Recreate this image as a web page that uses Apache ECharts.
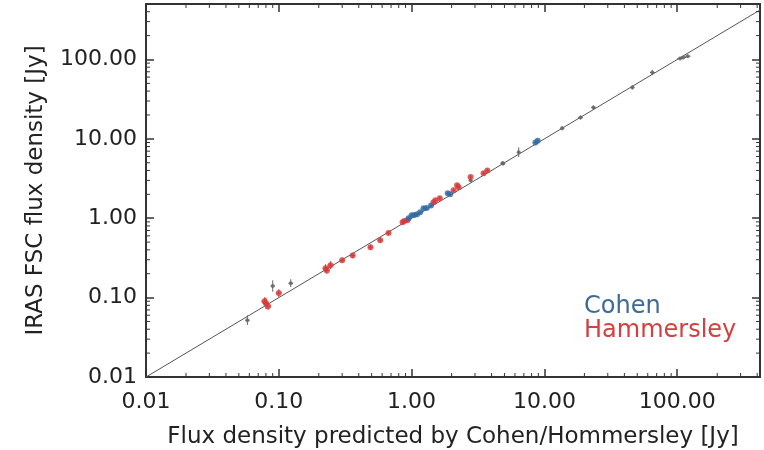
<!DOCTYPE html>
<html>
<head>
    <meta charset="UTF-8">
    <title>IRAS FSC vs predicted flux</title>
    <script src="https://cdn.jsdelivr.net/npm/echarts@6.0.0/dist/echarts.min.js"></script>
    <style>
        html, body { margin: 0; padding: 0; background: #fff; }
        #chart { width: 764px; height: 450px; }
    </style>
</head>
<body>
    <div id="chart"></div>
    <script>
        // axis ranges and ticks
        var xMin = 0.01, xMax = 420;
        var yMin = 0.01, yMax = 500;
        var minorTicks = [0.02, 0.03, 0.04, 0.05, 0.06, 0.07, 0.08, 0.09,
                          0.2, 0.3, 0.4, 0.5, 0.6, 0.7, 0.8, 0.9,
                          2, 3, 4, 5, 6, 7, 8, 9,
                          20, 30, 40, 50, 60, 70, 80, 90,
                          200, 300, 400, 500];
        var diagonal = [[0.01, 0.01], [420, 420]];

        // points: [predicted, IRAS FSC, x error factor, y error factor]
        var cohen = [
            [0.95, 1.00, 1.03, 1.05], [1.00, 1.09, 1.03, 1.05], [1.05, 1.10, 1.03, 1.06],
            [1.10, 1.12, 1.03, 1.05], [1.16, 1.19, 1.03, 1.05], [1.23, 1.34, 1.03, 1.05],
            [1.30, 1.35, 1.03, 1.05], [1.40, 1.45, 1.03, 1.05], [1.87, 2.06, 1.03, 1.05],
            [1.95, 2.00, 1.03, 1.05], [8.55, 9.00, 1.03, 1.06], [8.90, 9.50, 1.03, 1.06]
        ];
        var hammersley = [
            [0.080, 0.085, 1.05, 1.18], [0.083, 0.078, 1.05, 1.12], [0.078, 0.090, 1.05, 1.12],
            [0.100, 0.114, 1.05, 1.12], [0.225, 0.235, 1.05, 1.12], [0.245, 0.256, 1.05, 1.12],
            [0.230, 0.220, 1.05, 1.10], [0.300, 0.296, 1.04, 1.08], [0.360, 0.340, 1.04, 1.08],
            [0.490, 0.430, 1.04, 1.08], [0.580, 0.530, 1.04, 1.08], [0.670, 0.650, 1.04, 1.06],
            [0.855, 0.890, 1.03, 1.06], [0.930, 0.940, 1.03, 1.06], [0.880, 0.920, 1.03, 1.06],
            [1.46, 1.59, 1.03, 1.06], [1.63, 1.79, 1.03, 1.06], [1.51, 1.68, 1.03, 1.06],
            [2.07, 2.25, 1.03, 1.06], [2.26, 2.45, 1.03, 1.06], [2.20, 2.60, 1.03, 1.06],
            [2.78, 3.30, 1.03, 1.06], [3.48, 3.68, 1.03, 1.06], [3.72, 4.00, 1.03, 1.06]
        ];
        var others = [
            [0.058, 0.052, 1.04, 1.15], [0.090, 0.140, 1.04, 1.18], [0.123, 0.152, 1.04, 1.12],
            [2.78, 3.00, 1.03, 1.05], [4.83, 4.92, 1.03, 1.05], [4.90, 4.90, 1.03, 1.05],
            [6.40, 6.80, 1.03, 1.15], [13.6, 13.6, 1.04, 1.06], [18.7, 18.6, 1.04, 1.06],
            [23.4, 24.9, 1.04, 1.06], [45.9, 44.5, 1.04, 1.06], [64.9, 68.5, 1.04, 1.08],
            [105, 103, 1.05, 1.05], [111, 106, 1.05, 1.05], [120, 110, 1.05, 1.05]
        ];

        var blue = '#2f6aa3', red = '#d63a3a', grey = '#666666', ink = '#333333';
        var font = 'DejaVu Sans';

        function errorBars(params, api) {
            var x = api.value(0), y = api.value(1), ex = api.value(2), ey = api.value(3);
            var top = api.coord([x, y * ey]), bot = api.coord([x, y / ey]);
            var lft = api.coord([x / ex, y]), rgt = api.coord([x * ex, y]);
            var st = { stroke: api.visual('color'), lineWidth: 1 };
            return {
                type: 'group',
                children: [
                    { type: 'line', shape: { x1: top[0], y1: top[1], x2: bot[0], y2: bot[1] }, style: st },
                    { type: 'line', shape: { x1: lft[0], y1: lft[1], x2: rgt[0], y2: rgt[1] }, style: st }
                ]
            };
        }

        function minorX(params, api) {
            var cs = params.coordSys;
            var px = api.coord([api.value(0), 1])[0];
            var st = { stroke: ink, lineWidth: 1 };
            return {
                type: 'group',
                children: [
                    { type: 'line', shape: { x1: px, y1: cs.y + cs.height, x2: px, y2: cs.y + cs.height - 4 }, style: st },
                    { type: 'line', shape: { x1: px, y1: cs.y, x2: px, y2: cs.y + 4 }, style: st }
                ]
            };
        }

        function minorY(params, api) {
            var cs = params.coordSys;
            var py = api.coord([1, api.value(0)])[1];
            var st = { stroke: ink, lineWidth: 1 };
            return {
                type: 'group',
                children: [
                    { type: 'line', shape: { x1: cs.x, y1: py, x2: cs.x + 4, y2: py }, style: st },
                    { type: 'line', shape: { x1: cs.x + cs.width, y1: py, x2: cs.x + cs.width - 4, y2: py }, style: st }
                ]
            };
        }

        function logAxis(min, max, pos, withLabels) {
            return {
                type: 'log',
                logBase: 10,
                min: min,
                max: max,
                interval: 1,
                position: pos,
                splitLine: { show: false },
                axisLine: { show: true, onZero: false, lineStyle: { color: ink, width: 2 } },
                axisTick: { show: true, inside: true, length: 8, lineStyle: { color: ink, width: 1.5 } },
                axisLabel: {
                    show: withLabels,
                    showMaxLabel: false,
                    color: '#222',
                    fontFamily: font,
                    fontSize: 22,
                    formatter: function (v) { return Number(v).toFixed(2); }
                }
            };
        }

        var xBottom = logAxis(xMin, xMax, 'bottom', true);
        xBottom.name = 'Flux density predicted by Cohen/Hommersley [Jy]';
        xBottom.nameLocation = 'middle';
        xBottom.nameGap = 49;
        xBottom.nameTextStyle = { color: '#222', fontFamily: font, fontSize: 23 };
        xBottom.axisLabel.margin = 14;

        var yLeft = logAxis(yMin, yMax, 'left', true);
        yLeft.name = 'IRAS FSC flux density [Jy]';
        yLeft.nameLocation = 'middle';
        yLeft.nameGap = 98;
        yLeft.nameTextStyle = { color: '#222', fontFamily: font, fontSize: 23 };
        yLeft.axisLabel.margin = 9;

        var chart = echarts.init(document.getElementById('chart'));
        chart.setOption({
            animation: false,
            backgroundColor: '#fff',
            grid: { left: 146, right: 4, top: 4, bottom: 73, outerBoundsMode: 'none' },
            legend: {
                orient: 'vertical',
                left: 574,
                top: 290,
                itemGap: 0,
                itemWidth: 0,
                itemHeight: 0,
                icon: 'none',
                textStyle: { fontFamily: font, fontSize: 24 },
                data: [
                    { name: 'Cohen', textStyle: { color: '#3d6a98' } },
                    { name: 'Hammersley', textStyle: { color: '#d44040' } }
                ]
            },
            xAxis: [xBottom, logAxis(xMin, xMax, 'top', false)],
            yAxis: [yLeft, logAxis(yMin, yMax, 'right', false)],
            series: [
                {
                    type: 'line', name: 'y = x', data: diagonal, symbol: 'none', clip: true,
                    lineStyle: { color: '#555', width: 1 }, z: 1, silent: true
                },
                {
                    type: 'custom', name: 'minorX', renderItem: minorX, silent: true, z: 5,
                    data: minorTicks.filter(function (v) { return v < xMax; }).map(function (v) { return [v, 1]; })
                },
                {
                    type: 'custom', name: 'minorY', renderItem: minorY, silent: true, z: 5,
                    encode: { x: 1, y: 0 },
                    data: minorTicks.filter(function (v) { return v < yMax; }).map(function (v) { return [v, 1]; })
                },
                { type: 'custom', name: 'others', renderItem: errorBars, data: others, itemStyle: { color: grey }, encode: { x: 0, y: 1 }, z: 2 },
                { type: 'scatter', name: 'others', data: others, symbolSize: 4, itemStyle: { color: grey }, z: 3 },
                { type: 'custom', name: 'Hammersley', renderItem: errorBars, data: hammersley, itemStyle: { color: red }, encode: { x: 0, y: 1 }, z: 2 },
                { type: 'scatter', name: 'Hammersley', data: hammersley, symbolSize: 6, itemStyle: { color: red }, z: 3 },
                { type: 'custom', name: 'Cohen', renderItem: errorBars, data: cohen, itemStyle: { color: blue }, encode: { x: 0, y: 1 }, z: 2 },
                { type: 'scatter', name: 'Cohen', data: cohen, symbolSize: 6, itemStyle: { color: blue }, z: 4 }
            ]
        });
    </script>
</body>
</html>
